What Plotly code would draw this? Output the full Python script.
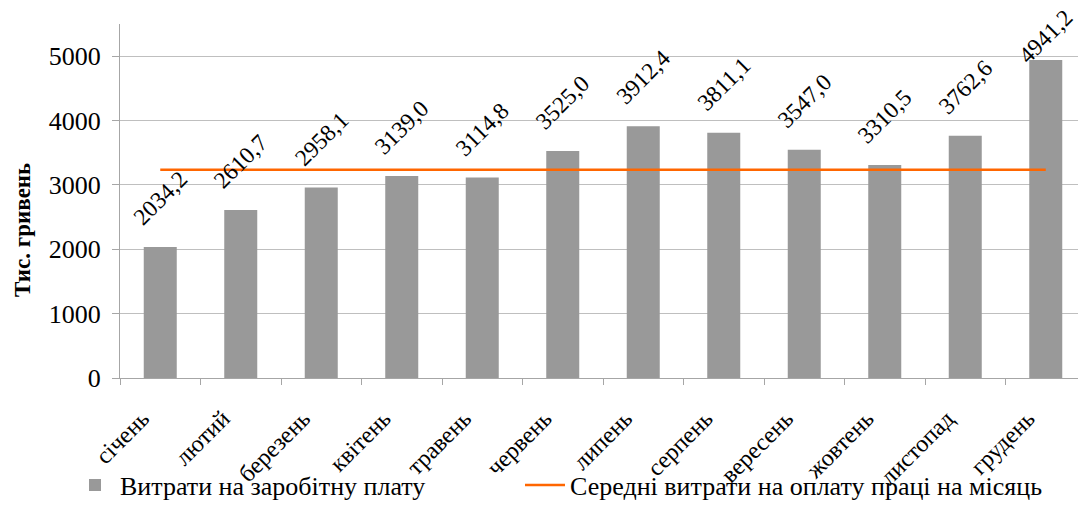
import plotly.graph_objects as go

months = ["січень", "лютий", "березень", "квітень", "травень", "червень",
          "липень", "серпень", "вересень", "жовтень", "листопад", "грудень"]
wages = [2034.2, 2610.7, 2958.1, 3139.0, 3114.8, 3525.0,
         3912.4, 3811.1, 3547.0, 3310.5, 3762.6, 4941.2]
avg_level = [3235] * len(months)
labels = [f"{v:.1f}".replace(".", ",") for v in wages]

SERIF = "Liberation Serif, Times New Roman, serif"
# label offset above the bar (px); the last label is pulled down to stay inside the chart
label_shift = [14] * 11 + [-11]

fig = go.Figure()
fig.add_trace(go.Bar(
    x=months, y=wages, name="Витрати на заробітну плату",
    marker=dict(color="#999999", line=dict(width=0)),
    legend="legend",
))
fig.add_trace(go.Scatter(
    x=months, y=avg_level, mode="lines",
    name="Середні витрати на оплату праці на місяць",
    line=dict(color="#FF6600", width=2.5), legend="legend2",
))

annotations = [dict(
    x=m, y=v, xref="x", yref="y", text=t, textangle=-45,
    showarrow=False, xanchor="center", yanchor="bottom", yshift=s,
    font=dict(family=SERIF, size=23.5, color="#000000"),
) for m, v, t, s in zip(months, wages, labels, label_shift)]

annotations.append(dict(
    text="<b>Тис. гривень</b>", textangle=-90,
    xref="paper", yref="paper", x=-98 / 966, y=(370 - 222) / 354,
    xanchor="center", yanchor="middle", showarrow=False,
    font=dict(family=SERIF, size=23, color="#000000"),
))

legend_common = dict(orientation="h", xref="container", yref="container",
                     y=(522 - 477) / 522, xanchor="left", yanchor="middle",
                     font=dict(family=SERIF, size=26, color="#000000"),
                     bgcolor="rgba(0,0,0,0)", itemwidth=40)

# the page body adds an 8 px margin, so the figure is sized to fit inside it
fig.update_layout(
    width=1078, height=522,
    margin=dict(l=112, r=0, t=16, b=152),
    paper_bgcolor="white", plot_bgcolor="white",
    bargap=0.59,
    font=dict(family=SERIF, color="#000000"),
    showlegend=True,
    legend=dict(x=62 / 1078, **legend_common),
    legend2=dict(x=512 / 1078, **legend_common),
    xaxis=dict(
        tickangle=-45, tickfont=dict(family=SERIF, size=24),
        showline=True, linecolor="#A6A6A6", linewidth=1,
        ticks="outside", ticklen=6, tickcolor="#A6A6A6", tickson="boundaries",
        showgrid=False, automargin=False,
        ticklabelstandoff=16, ticklabelshift=-18,
    ),
    yaxis=dict(
        range=[0, 5500], tickvals=[0, 1000, 2000, 3000, 4000, 5000],
        tickfont=dict(family=SERIF, size=26),
        showline=True, linecolor="#A6A6A6", linewidth=1,
        ticks="outside", ticklen=7, tickcolor="#A6A6A6",
        showgrid=True, gridcolor="#BFBFBF", gridwidth=1,
        zeroline=False, automargin=False, ticklabelstandoff=6,
    ),
    annotations=annotations,
)

fig.write_html("out.html")
